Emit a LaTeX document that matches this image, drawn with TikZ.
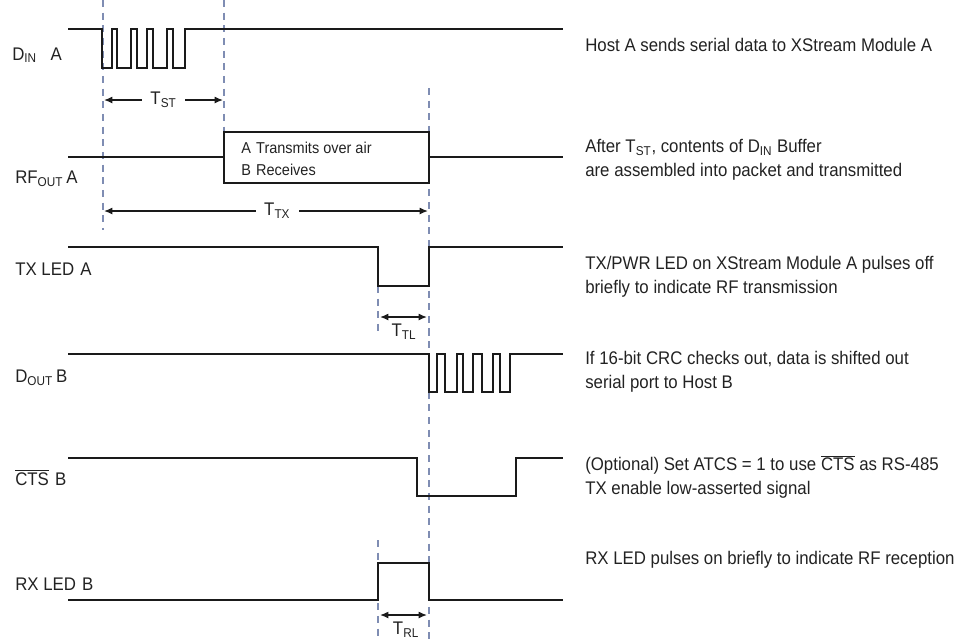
\documentclass[tikz,border=0pt]{standalone}
\usepackage{fontspec}
\setmainfont[FakeStretch=0.92]{Liberation Sans}
\usetikzlibrary{arrows.meta}
\definecolor{cwave}{HTML}{1A1A1A}
\definecolor{cmark}{HTML}{7F8DB3}
\definecolor{ctext}{HTML}{222222}
\newcommand{\sg}[1]{\textsubscript{#1}}
\newcommand{\ovl}[1]{$\overline{\mbox{#1}}$}

\begin{document}
\begin{tikzpicture}[x=0.025cm, y=-0.025cm,
    wave/.style={draw=cwave, line width=1.4pt},
    tmark/.style={draw=cmark, line width=1.1pt, dash pattern=on 5pt off 4pt},
    dimarrow/.style={draw=cwave, line width=1pt, {Latex[length=6pt,width=5pt]}-{Latex[length=6pt,width=5pt]}},
    sig/.style={anchor=base west, inner sep=0pt, font=\fontsize{13}{15}\selectfont, text=ctext},
    note/.style={anchor=base west, inner sep=0pt, align=left, font=\fontsize{13}{16.5}\selectfont, text=ctext},
    tlbl/.style={fill=white, inner xsep=6pt, inner ysep=1pt, font=\fontsize{13}{15}\selectfont, text=ctext}]
    \useasboundingbox (0,0) rectangle (972,641);
    % time markers
    \draw[tmark] (103,0) -- (103,230);
    \draw[tmark] (224,0) -- (224,183);
    \draw[tmark] (429,88) -- (429,641);
    \draw[tmark] (378,286) -- (378,334);
    \draw[tmark] (378,540) -- (378,641);
    % signal names
    \node[sig] (din) at (12,60) {D\sg{IN}\hspace{0.75em}A};
    \node[sig] (rfout) at (15,183) {RF\sg{OUT}\,A};
    \node[sig] (txled) at (15,275) {TX LED\,\,A};
    \node[sig] (dout) at (15,382) {D\sg{OUT}\,B};
    \node[sig] (cts) at (15,485) {\ovl{CTS}\,\,B};
    \node[sig] (rxled) at (15,590) {RX LED\,\,B};
    % waveforms
    \draw[wave] (68,29) -- (102,29)
        \foreach \a/\b in {102/112,117/131,137/147,153/167,173/185} { -- (\a,29) -- (\a,68) -- (\b,68) -- (\b,29) }
        -- (563,29);
    \draw[wave] (68,157) -- (224,157) (224,132) rectangle (429,183) (429,157) -- (563,157);
    \draw[wave] (68,247) -- (378,247) -- (378,286) -- (429,286) -- (429,247) -- (563,247);
    \draw[wave] (68,354) -- (429,354)
        \foreach \a/\b in {429/437,445/457,463/473,482/493,500/510} { -- (\a,354) -- (\a,392) -- (\b,392) -- (\b,354) }
        -- (563,354);
    \draw[wave] (68,458) -- (417,458) -- (417,496) -- (516,496) -- (516,458) -- (563,458);
    \draw[wave] (68,600) -- (378,600) -- (378,563) -- (429,563) -- (429,600) -- (563,600);
    \node[note, font=\fontsize{11.2}{15.6}\selectfont] (rfbox) at (241,175) {A\,\,Transmits over air\\B\,\,Receives};
    % intervals
    \coordinate (st-l) at (104,100);
    \coordinate (st-r) at (223,100);
    \coordinate (tx-l) at (104,211);
    \coordinate (tx-r) at (428,211);
    \coordinate (tl-l) at (380,317);
    \coordinate (tl-r) at (427,317);
    \coordinate (rl-l) at (380,615);
    \coordinate (rl-r) at (427,615);
    \draw[dimarrow] (st-l) -- node[tlbl] (tst) {T\sg{ST}} (st-r);
    \draw[dimarrow] (tx-l) -- node[tlbl, xshift=8pt] (ttx) {T\sg{TX}} (tx-r);
    \draw[dimarrow] (tl-l) -- (tl-r);
    \draw[dimarrow] (rl-l) -- (rl-r);
    \node[sig, anchor=base] (ttl) at (404,336) {T\sg{TL}};
    \node[sig, anchor=base] (trl) at (406,634) {T\sg{RL}};
    % descriptions
    \node[note] (d1) at (585,51) {Host A sends serial data to XStream Module A};
    \node[note] (d2) at (585,176) {After T\sg{ST}, contents of D\sg{IN} Buffer\\are assembled into packet and transmitted};
    \node[note] (d3) at (585,293) {TX/PWR LED on XStream Module A pulses off\\briefly to indicate RF transmission};
    \node[note] (d4) at (585,388) {If 16-bit CRC checks out, data is shifted out\\serial port to Host B};
    \node[note] (d5) at (585,494) {(Optional) Set ATCS = 1 to use \ovl{CTS} as RS-485\\TX enable low-asserted signal};
    \node[note] (d6) at (585,564) {RX LED pulses on briefly to indicate RF reception};
\end{tikzpicture}
\end{document}
